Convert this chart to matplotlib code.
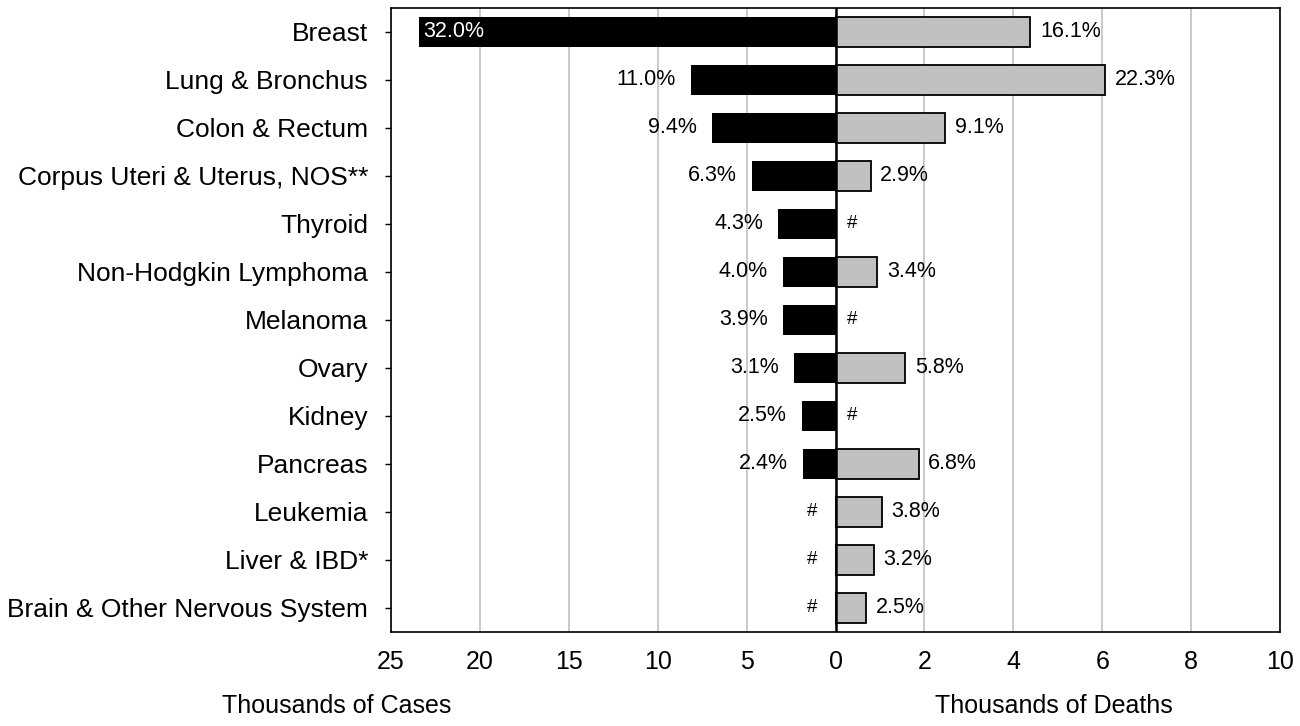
import numpy as np
import matplotlib
matplotlib.use("Agg")
import matplotlib.pyplot as plt

plt.rcParams["font.family"] = ["Liberation Sans", "DejaVu Sans"]

sites = [
    "Breast", "Lung & Bronchus", "Colon & Rectum", "Corpus Uteri & Uterus, NOS**",
    "Thyroid", "Non-Hodgkin Lymphoma", "Melanoma", "Ovary", "Kidney", "Pancreas",
    "Leukemia", "Liver & IBD*", "Brain & Other Nervous System",
]
# thousands of new cases / deaths (nan = not in top list, shown as #)
cases = [23.45, 8.12, 6.94, 4.67, 3.22, 2.96, 2.93, 2.31, 1.86, 1.82,
         np.nan, np.nan, np.nan]
deaths = [4.38, 6.07, 2.47, 0.79, np.nan, 0.94, np.nan, 1.57, np.nan, 1.87,
          1.04, 0.86, 0.68]
case_pct = ["32.0%", "11.0%", "9.4%", "6.3%", "4.3%", "4.0%", "3.9%", "3.1%",
            "2.5%", "2.4%", "#", "#", "#"]
death_pct = ["16.1%", "22.3%", "9.1%", "2.9%", "#", "3.4%", "#", "5.8%", "#",
             "6.8%", "3.8%", "3.2%", "2.5%"]

case_ticks = [25, 20, 15, 10, 5, 0]
death_ticks = [2, 4, 6, 8, 10]
scale = 2.5  # deaths axis 0-10 drawn over the same width as cases 0-25

fig = plt.figure(figsize=(13, 7.26), dpi=100)
ax = fig.add_axes([0.3008, 0.1295, 0.6838, 0.8595])

y = np.arange(len(sites))
left = -np.nan_to_num(np.array(cases))
right = np.nan_to_num(np.array(deaths)) * scale

ax.barh(y, left, height=0.625, color="black", zorder=3)
ax.barh(y, right, height=0.625, color="#c0c0c0", edgecolor="black",
        linewidth=1.3, zorder=3)

for i in range(len(sites)):
    if np.isnan(cases[i]):
        ax.annotate("#", (0, i), xytext=(-17, 0), textcoords="offset points",
                    ha="center", va="center", fontsize=13.5)
    elif i == 0:
        ax.annotate(case_pct[i], (left[i], i), xytext=(3.5, 0),
                    textcoords="offset points", ha="left", va="center",
                    fontsize=15.5, color="white", zorder=4)
    else:
        ax.annotate(case_pct[i], (left[i], i), xytext=(-11, 0),
                    textcoords="offset points", ha="right", va="center",
                    fontsize=15.5)
    if np.isnan(deaths[i]):
        ax.annotate("#", (0, i), xytext=(12, 0), textcoords="offset points",
                    ha="center", va="center", fontsize=13.5)
    else:
        ax.annotate(death_pct[i], (right[i], i), xytext=(7, 0),
                    textcoords="offset points", ha="left", va="center",
                    fontsize=15.5)

ax.set_xlim(-25, 25)
ax.set_ylim(len(sites) - 0.5, -0.5)
xt = [-t for t in case_ticks] + [t * scale for t in death_ticks]
ax.set_xticks(xt)
ax.set_xticklabels([str(t) for t in case_ticks] + [str(t) for t in death_ticks],
                   fontsize=18)
ax.tick_params(axis="x", length=0, pad=13)
ax.set_yticks(y)
ax.set_yticklabels(sites, fontsize=19)
ax.tick_params(axis="y", length=4.5, width=1, pad=12)

ax.grid(axis="x", color="#c0c0c0", linewidth=1.2, zorder=0)
ax.axvline(0, color="black", linewidth=1.8, zorder=5)
for s in ax.spines.values():
    s.set_linewidth(1.2)

fig.text(337 / 1300, 1 - 706 / 726, "Thousands of Cases", ha="center",
         va="center", fontsize=18)
fig.text(1054 / 1300, 1 - 706 / 726, "Thousands of Deaths", ha="center",
         va="center", fontsize=18)

fig.savefig("out.png", dpi=100)
plt.close(fig)
